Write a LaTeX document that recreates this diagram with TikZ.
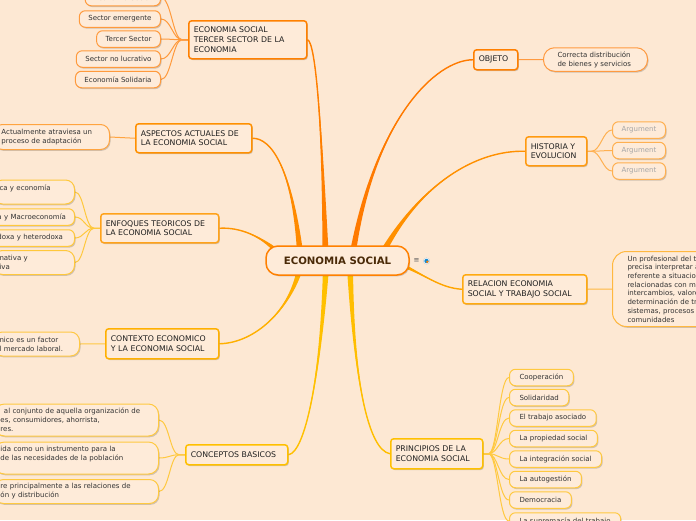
\documentclass[tikz,border=0pt]{standalone}
\usepackage{fontspec}
\setmainfont{DejaVu Sans}
\usetikzlibrary{calc,shadows,backgrounds}
\definecolor{bg}{HTML}{FDE8D3}
\definecolor{boxfill}{HTML}{FEEBD9}
\definecolor{txt}{HTML}{333333}
\definecolor{ctext}{HTML}{4A2A08}
\definecolor{cT}{HTML}{FF8000}\definecolor{cTl}{HTML}{FF9A3C}
\definecolor{cA}{HTML}{FF9000}\definecolor{cAl}{HTML}{FFA440}
\definecolor{cE}{HTML}{FFA21A}\definecolor{cEl}{HTML}{FFC83C}
\definecolor{cC}{HTML}{FFB000}\definecolor{cCl}{HTML}{FFC844}
\definecolor{cK}{HTML}{FFC000}\definecolor{cKl}{HTML}{FFC940}
\definecolor{cO}{HTML}{FF7F00}\definecolor{cOl}{HTML}{FF9A40}
\definecolor{cH}{HTML}{FF9A10}\definecolor{cHl}{HTML}{FFB050}
\definecolor{cR}{HTML}{FFAA10}\definecolor{cRl}{HTML}{FFB840}
\definecolor{cP}{HTML}{FFC000}\definecolor{cPl}{HTML}{FFC940}
\definecolor{bT}{HTML}{FF7F00}\definecolor{bA}{HTML}{FF8A00}
\definecolor{bE}{HTML}{FF9500}\definecolor{bC}{HTML}{FFB000}
\definecolor{bK}{HTML}{FFC000}\definecolor{bO}{HTML}{FF7A00}
\definecolor{bH}{HTML}{FF9000}\definecolor{bR}{HTML}{FFA500}
\definecolor{bP}{HTML}{FFBE00}
\newcommand\mmbranch[6]{%
  \fill[#1] ($(#2)+(#6)$) .. controls (#3) and (#4) .. (#5) .. controls (#4) and (#3) .. ($(#2)-(#6)$) -- cycle;
  \draw[#1, line width=1.4pt] (#2) .. controls (#3) and (#4) .. (#5);}
\begin{document}
\begin{tikzpicture}[x=1pt,y=-1pt,
  shad/.style={drop shadow={shadow xshift=1pt, shadow yshift=-1.3pt, opacity=0.25, fill=black!70}},
  centerbox/.style={draw=cT, line width=1.5pt, rounded corners=12pt, fill=boxfill, minimum width=143pt, minimum height=29pt, font=\bfseries\fontsize{10.2}{12}\selectfont, text=ctext, shad},
  lvone/.style={draw, line width=1.5pt, rounded corners=3pt, fill=boxfill, font=\fontsize{7.8}{9.6}\selectfont, text=black!88, align=left, inner xsep=5pt, inner ysep=1.5pt, anchor=north west, shad},
  leaf/.style={draw, line width=1pt, rounded corners=6pt, fill=boxfill, font=\fontsize{7}{9}\selectfont, text=txt, align=left, inner xsep=9pt, inner ysep=1.5pt, minimum height=16.5pt, shad},
  conn/.style={line width=1pt},
]
\path[use as bounding box] (0,0) rectangle (696,520);

% ---- centre
\node[centerbox] (es) at (337.5,260.5) {ECONOMIA SOCIAL};
\node[font=\fontsize{7}{7}\selectfont, text=black!65, inner sep=0pt] (menuicon) at (416.5,261) {≡};
\node[circle, inner sep=0pt, minimum size=6.5pt, fill=white, draw=black!25, line width=0.3pt] (globeicon) at (426.5,261) {};
\fill[cyan!70!blue] (globeicon.center) circle[radius=2.2pt];
\fill[orange] ($(globeicon.center)+(0.8,0.8)$) circle[radius=1.3pt];

% ---- level one
\node[lvone, draw=cT, text width=108pt, minimum height=38pt] (tercer) at (188,20) {ECONOMIA SOCIAL\\TERCER SECTOR DE LA\\ECONOMIA};
\node[lvone, draw=cA, text width=106pt, minimum height=29pt] (aspectos) at (135,123) {ASPECTOS ACTUALES DE\\LA ECONOMIA SOCIAL};
\node[lvone, draw=cE, text width=108pt, minimum height=29pt] (enfoques) at (100,213) {ENFOQUES TEORICOS DE\\LA ECONOMIA SOCIAL};
\node[lvone, draw=cC, text width=103pt, minimum height=30pt] (contexto) at (105,328) {CONTEXTO ECONOMICO\\Y LA ECONOMIA SOCIAL};
\node[lvone, draw=cK, text width=92pt, minimum height=20pt] (conceptos) at (185,444) {CONCEPTOS BASICOS};
\node[lvone, draw=cO, text width=34pt, minimum height=20pt] (objeto) at (473,49) {OBJETO};
\node[lvone, draw=cH, text width=51pt, minimum height=29pt] (historia) at (525,136) {HISTORIA Y\\EVOLUCION};
\node[lvone, draw=cR, text width=114pt, minimum height=29pt] (relacion) at (462,274) {RELACION ECONOMIA\\SOCIAL Y TRABAJO SOCIAL};
\node[lvone, draw=cP, text width=82pt, minimum height=30pt] (principios) at (390,438) {PRINCIPIOS DE LA\\ECONOMIA SOCIAL};

% ---- leaves: tercer sector
\node[leaf, draw=cTl, anchor=east] (t1) at (161,-2.5) {Economía Social};
\node[leaf, draw=cTl, anchor=east] (t2) at (161,19) {Sector emergente};
\node[leaf, draw=cTl, anchor=east] (t3) at (161,39) {Tercer Sector};
\node[leaf, draw=cTl, anchor=east] (t4) at (161,59) {Sector no lucrativo};
\node[leaf, draw=cTl, anchor=east] (t5) at (161,79.5) {Economía Solidaria};
% aspectos
\node[leaf, draw=cAl, anchor=west, text width=100pt, inner xsep=8pt, minimum height=25pt, rounded corners=9pt] (a1) at (-7,137) {Actualmente atraviesa un\\proceso de adaptación};
% enfoques
\node[leaf, draw=cEl, anchor=west, text width=69pt, inner xsep=6pt, minimum height=24pt, rounded corners=9pt] (e1) at (-7,192) {ca y economía\\\mbox{}};
\node[leaf, draw=cEl, anchor=west, text width=71pt, inner xsep=6pt] (e2) at (-9,217) {a y Macroeconomía};
\node[leaf, draw=cEl, anchor=west, text width=71pt, inner xsep=6pt] (e3) at (-9,238) {doxa y heterodoxa};
\node[leaf, draw=cEl, anchor=west, text width=69pt, inner xsep=6pt, minimum height=24pt, rounded corners=9pt] (e4) at (-7,262.5) {nativa y\\iva};
% contexto
\node[leaf, draw=cCl, anchor=west, text width=74pt, inner xsep=6pt, minimum height=24pt, rounded corners=9pt] (x1) at (-7,344) {nico es un factor\\l mercado laboral.};
% conceptos
\node[leaf, draw=cKl, anchor=west, text width=152pt, inner xsep=6pt, minimum height=32pt, rounded corners=10pt] (k1) at (-6,420) {\hspace*{3.5pt}al conjunto de aquella organización de\\es, consumidores, ahorrista,\\res.};
\node[leaf, draw=cKl, anchor=west, text width=152pt, inner xsep=6pt, minimum height=32pt, rounded corners=10pt] (k2) at (-6,458) {ida como un instrumento para la\\de las necesidades de la población\\\mbox{}};
\node[leaf, draw=cKl, anchor=west, text width=152pt, inner xsep=6pt, minimum height=24pt, rounded corners=9pt] (k3) at (-6,491.5) {re principalmente a las relaciones de\\ón y distribución};
% objeto
\node[leaf, draw=cOl, anchor=west, text width=76pt, inner xsep=14pt, minimum height=23.5pt, rounded corners=11pt] (o1) at (543,59.5) {Correcta distribución\\de bienes y servicios};
% historia
\node[leaf, draw=cHl, anchor=west, minimum width=53pt, text=black!35, align=center] (h1) at (612,130) {Argument};
\node[leaf, draw=cHl, anchor=west, minimum width=53pt, text=black!35, align=center] (h2) at (612,150.5) {Argument};
\node[leaf, draw=cHl, anchor=west, minimum width=53pt, text=black!35, align=center] (h3) at (612,171) {Argument};
% relacion
\node[leaf, draw=cRl, anchor=north west, text width=100pt, inner xsep=15pt, minimum height=75pt, rounded corners=14pt, font=\fontsize{7}{8.7}\selectfont] (r1) at (612,251) {Un profesional del t\\precisa interpretar a\\referente a situacio\\relacionadas con m\\intercambios, valore\\determinación de tr\\sistemas, procesos\\comunidades};
% principios
\node[leaf, draw=cPl, anchor=west, inner xsep=10pt] (p1) at (509,377.5) {Cooperación};
\node[leaf, draw=cPl, anchor=west, inner xsep=10pt] (p2) at (509,397.5) {Solidaridad};
\node[leaf, draw=cPl, anchor=west, inner xsep=10pt] (p3) at (509,418) {El trabajo asociado};
\node[leaf, draw=cPl, anchor=west, inner xsep=10pt] (p4) at (509,438.5) {La propiedad social};
\node[leaf, draw=cPl, anchor=west, inner xsep=10pt] (p5) at (509,459) {La integración social};
\node[leaf, draw=cPl, anchor=west, inner xsep=10pt] (p6) at (509,479.5) {La autogestión};
\node[leaf, draw=cPl, anchor=west, inner xsep=10pt] (p7) at (509,500) {Democracia};
\node[leaf, draw=cPl, anchor=west, inner xsep=10pt] (p8) at (509,521) {La supremacía del trabajo};

% ---- connectors behind the boxes
\begin{pgfonlayer}{background}
\fill[bg] (0,0) rectangle (696,520);
\coordinate (sT) at ($(es.center)+(-12,-9)$);
\coordinate (sA) at ($(es.center)+(-37.5,-8.5)$);
\coordinate (sE) at ($(es.center)+(-55.5,-4.5)$);
\coordinate (sC) at ($(es.center)+(-37.5,7.5)$);
\coordinate (sK) at ($(es.center)+(-11.5,7.5)$);
\coordinate (sO) at ($(es.center)+(15.5,-8.5)$);
\coordinate (sH) at ($(es.center)+(45.5,-8.5)$);
\coordinate (sR) at ($(es.center)+(60.5,2.5)$);
\coordinate (sP) at ($(es.center)+(12.5,7.5)$);
\mmbranch{bT}{sT}{322,130}{316,42}{tercer.east}{3,0}
\mmbranch{bA}{sA}{292,170}{272,138}{aspectos.east}{3,0}
\mmbranch{bE}{sE}{262,236}{240,227}{enfoques.east}{1.8,-2.6}
\mmbranch{bC}{sC}{290,310}{255,343}{contexto.east}{2.8,1.0}
\mmbranch{bK}{sK}{320,380}{305,452}{conceptos.east}{3,0}
\mmbranch{bO}{sO}{375,120}{435,60}{objeto.west}{3,0}
\mmbranch{bH}{sH}{420,185}{475,150}{historia.west}{2.6,1.4}
\mmbranch{bR}{sR}{425,275}{440,288}{relacion.west}{0,2.6}
\mmbranch{bP}{sP}{354,380}{368,450}{principios.west}{3,0}
\foreach \c in {t1,t2,t3,t4,t5}
  \draw[conn,cTl] (tercer.west) -- ++(-6,0) .. controls +(-9,0) and +(10,0) .. (\c.east);
\draw[conn,cAl] (aspectos.west) -- (a1.east);
\foreach \c in {e1,e2,e3,e4}
  \draw[conn,cEl] (enfoques.west) -- ++(-6,0) .. controls +(-9,0) and +(9,0) .. (\c.east);
\draw[conn,cCl] (contexto.west) -- (x1.east);
\foreach \c in {k1,k2,k3}
  \draw[conn,cKl] (conceptos.west) -- ++(-6,0) .. controls +(-9,0) and +(10,0) .. (\c.east);
\draw[conn,cOl] (objeto.east) -- (o1.west);
\foreach \c in {h1,h2,h3}
  \draw[conn,cHl] (historia.east) -- ++(4,0) .. controls +(9,0) and +(-9,0) .. (\c.west);
\draw[conn,cRl] (relacion.east) -- (r1.west);
\foreach \c in {p1,p2,p3,p4,p5,p6,p7,p8}
  \draw[conn,cPl] (principios.east) -- ++(5,0) .. controls +(9,0) and +(-10,0) .. (\c.west);
\end{pgfonlayer}
\end{tikzpicture}
\end{document}
